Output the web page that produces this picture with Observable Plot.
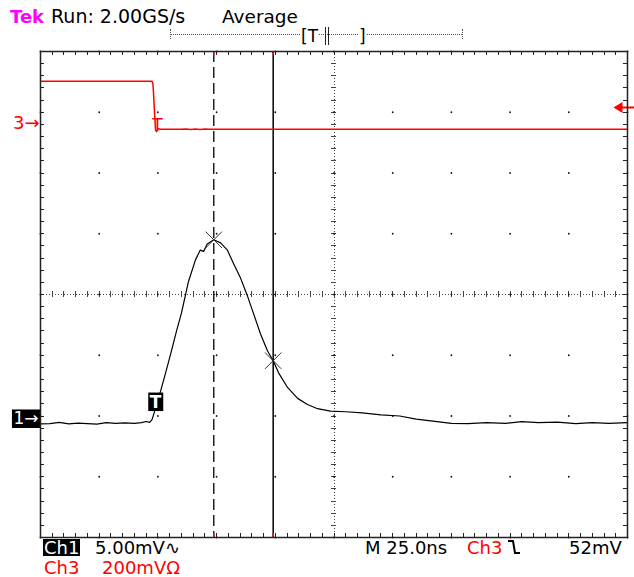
<!DOCTYPE html>
<html><head><meta charset="utf-8">
<script src="https://cdn.jsdelivr.net/npm/d3@7"></script>
<script src="https://cdn.jsdelivr.net/npm/@observablehq/plot@0.6"></script>
<style>
body{margin:0;background:#fff;}
#wrap{position:relative;width:634px;height:577px;overflow:hidden;font-family:"DejaVu Sans",sans-serif;font-size:18px;color:#000;}
#wrap svg.plot{position:absolute;left:0;top:0;}
.lbl{position:absolute;white-space:nowrap;line-height:17px;}
.red{color:#ff0000;}
.box{display:inline-block;background:#000;color:#fff;padding:0 1px;height:17px;line-height:17px;}
</style></head><body><div id="wrap"></div>
<script>
// ---- settings ----
const timeDomain = [-50, 200];      // ns (25 ns/div, 10 divisions)
const divDomain = [-4, 4];          // vertical divisions
const ch1Scale = 5;                 // mV/div
const ch3Scale = 200;               // mV/div
const ch1Pos = -2.05;               // ground marker position (div)
const ch3Pos = 2.82;
const triggerLevel = 52;            // mV on Ch3
const triggerTime = -1;             // ns
const cursorTimes = [23.8, 49.1];   // ns

// ---- Ch1 trace ----
const ch1Time = [-50,-46,-42,-38,-34,-30,-26,-22,-18,-14,-10,-7,-5,-3.5,-2.5,-1,1,3,5.5,8,10,13,16,18,19.5,21,23.8,26.7,29.6,32.2,35.2,38.2,40.7,43.7,46.7,49.1,51.4,55.2,59.5,63.7,68,73.5,80,87,95,103,110,118,125,132,140,148,155,162,170,178,185,192,200];
const ch1mV   = [-0.40,-0.38,-0.28,-0.40,-0.34,-0.38,-0.42,-0.30,-0.36,-0.32,-0.35,-0.30,-0.20,-0.28,-0.05,0.9,2.2,3.6,5.4,7.3,8.7,11.3,13.1,13.9,13.8,14.4,14.75,14.5,13.9,12.8,11.6,10.1,8.7,7.0,5.6,4.8,3.8,2.6,1.7,1.2,0.85,0.65,0.6,0.5,0.35,0.25,0.0,-0.2,-0.35,-0.38,-0.3,-0.35,-0.22,-0.3,-0.25,-0.38,-0.3,-0.36,-0.3];

// ---- Ch3 trace ----
const ch3Time = [-50,-2.5,-2.1,-1.8,-1.4,-1.0,-0.6,0.2,1.0,10,12,14,16,18,20,22,200];
const ch3mV   = [138,138,128,90,30,-22,-28,-18,-20,-20,-19,-21,-19,-21,-19,-20,-20];

// ---- derived tables ----
const ch1 = ch1Time.map((t,i)=>({t, y: ch1Pos + ch1mV[i]/ch1Scale}));
const ch3 = ch3Time.map((t,i)=>({t, y: ch3Pos + ch3mV[i]/ch3Scale}));
function interp(ts, vs, t){const i=Math.max(1,d3.bisectLeft(ts,t));const t0=ts[i-1],t1=ts[i];const a=(t-t0)/(t1-t0);return vs[i-1]+(vs[i]-vs[i-1])*a;}
const cursorPts = cursorTimes.map(t=>({t, y: ch1Pos + interp(ch1Time,ch1mV,t)/ch1Scale}));
const trigCh1 = [{t: triggerTime, y: ch1Pos + interp(ch1Time,ch1mV,triggerTime)/ch1Scale, label:"T"}];
const trigCh3 = [{t: triggerTime+0.8, y: ch3Pos + interp(ch3Time,ch3mV,triggerTime+0.8)/ch3Scale, label:"T"}];

// graticule positions
const step = (timeDomain[1]-timeDomain[0])/10;
const xMajor = d3.range(0,11).map(i=>timeDomain[0]+i*step);
const yMajor = d3.range(0,9).map(i=>divDomain[0]+i);
const xMinor = d3.range(0,51).map(i=>timeDomain[0]+i*step/5);
const yMinor = d3.range(0,41).map(i=>divDomain[0]+i*0.2);
const xMid = (timeDomain[0]+timeDomain[1])/2;
const gridDots = xMajor.flatMap(x=>yMajor.map(y=>({x,y})));
const tx = step*0.065, ty = 0.065;

const arrowLeft = {draw(ctx){ctx.moveTo(-9,0);ctx.lineTo(0,-5.5);ctx.lineTo(0,5.5);ctx.closePath();ctx.rect(0,-1,12,2);}};
const crisp = {shapeRendering:"crispEdges"};

const plot = Plot.plot({
  width:634, height:577,
  marginLeft:40, marginRight:7, marginTop:51, marginBottom:40,
  x:{domain:timeDomain, axis:null},
  y:{domain:divDomain, axis:null},
  style:{background:"transparent", overflow:"visible", fontFamily:"DejaVu Sans, sans-serif"},
  marks:[
    // center cross
    Plot.ruleY([0],{stroke:"#444", strokeDasharray:"1,2", strokeWidth:1, ...crisp}),
    Plot.ruleX([xMid],{stroke:"#444", strokeDasharray:"1,2", strokeWidth:1, ...crisp}),
    Plot.ruleX(xMinor,{x:d=>d, y1:-0.05, y2:0.05, stroke:"#444", strokeWidth:1, ...crisp}),
    Plot.ruleY(yMinor,{y:d=>d, x1:xMid-step*0.05, x2:xMid+step*0.05, stroke:"#444", strokeWidth:1, ...crisp}),
    // edge ticks
    Plot.ruleX(xMinor,{x:d=>d, y1:divDomain[1], y2:divDomain[1]-ty, stroke:"#222", ...crisp}),
    Plot.ruleX(xMinor,{x:d=>d, y1:divDomain[0], y2:divDomain[0]+ty, stroke:"#222", ...crisp}),
    Plot.ruleY(yMinor,{y:d=>d, x1:timeDomain[0], x2:timeDomain[0]+tx, stroke:"#222", ...crisp}),
    Plot.ruleY(yMinor,{y:d=>d, x1:timeDomain[1], x2:timeDomain[1]-tx, stroke:"#222", ...crisp}),
    // grid dots
    Plot.dot(gridDots,{x:"x", y:"y", r:0.9, fill:"#111", stroke:null}),
    // cursors
    Plot.ruleX([cursorTimes[0]],{stroke:"#000", strokeWidth:1.3, strokeDasharray:"11,5"}),
    Plot.ruleX([cursorTimes[1]],{stroke:"#000", strokeWidth:1.5}),
    Plot.ruleX(cursorTimes,{x:d=>d, y1:divDomain[1], y2:divDomain[1]-ty, stroke:"red", strokeWidth:1.5}),
    Plot.ruleX(cursorTimes,{x:d=>d, y1:divDomain[0], y2:divDomain[0]+ty, stroke:"red", strokeWidth:1.5}),
    // traces
    Plot.line(ch3,{x:"t", y:"y", stroke:"#ff0000", strokeWidth:1.5}),
    Plot.line(ch1,{x:"t", y:"y", stroke:"#000", strokeWidth:1.2, curve:"linear"}),
    // cursor markers
    Plot.dot(cursorPts,{x:"t", y:"y", symbol:"times", r:7.5, stroke:"#333", strokeWidth:1}),
    // trigger markers
    Plot.text(trigCh1,{x:"t", y:"y", text:"label", fill:"white", fontSize:17, fontWeight:"bold", dy:-6, className:"boxed"}),
    Plot.text(trigCh3,{x:"t", y:"y", text:"label", fill:"#ff0000", fontSize:17, lineAnchor:"bottom", dy:1}),
    // trigger level arrow
    Plot.dot([{t:timeDomain[1], y:ch3Pos+triggerLevel/ch3Scale}],{x:"t", y:"y", symbol:arrowLeft, fill:"#ff0000", stroke:null, dx:-5}),
    // ground markers
    Plot.text([{t:timeDomain[0], y:ch3Pos, label:"3→"}],{x:"t", y:"y", text:"label", fill:"#ff0000", fontSize:18, textAnchor:"end", dx:-1}),
    Plot.text([{t:timeDomain[0], y:ch1Pos, label:"1→"}],{x:"t", y:"y", text:"label", fill:"white", fontSize:17, textAnchor:"end", dx:-2, className:"boxed"}),
    Plot.frame({stroke:"#222", strokeWidth:1.5})
  ]
});
plot.classList.add("plot");
const wrap = document.getElementById("wrap");
wrap.appendChild(plot);
// black boxes behind boxed labels
plot.querySelectorAll("g.boxed text").forEach(t=>{
  const b=t.getBBox();
  const r=document.createElementNS("http://www.w3.org/2000/svg","rect");
  r.setAttribute("x",b.x-1.5);r.setAttribute("y",b.y+1);r.setAttribute("width",b.width+3);r.setAttribute("height",b.height-1.5);
  r.setAttribute("fill","#000");
  if(t.getAttribute("transform")) r.setAttribute("transform",t.getAttribute("transform"));
  t.parentNode.insertBefore(r,t);
});

// ---- header and footer texts ----
function lbl(html,left,top,cls,extra){const d=document.createElement("div");d.className="lbl "+(cls||"");d.innerHTML=html;d.style.left=left+"px";d.style.top=top+"px";if(extra)Object.assign(d.style,extra);wrap.appendChild(d);return d;}
lbl('<span style="color:#ff00ff;font-weight:bold">Tek</span>',10,8);
lbl('Run: 2.00GS/s',51,8,'',{fontSize:'19px'});
lbl('Average',222,8,'',{fontSize:'18.5px'});
// record bar
lbl('',170,34,'',{width:'292px',height:'0',borderTop:'1px dotted #555'});
lbl('',170,29,'',{width:'0',height:'10px',borderLeft:'1px dotted #555'});
lbl('',462,29,'',{width:'0',height:'10px',borderLeft:'1px dotted #555'});
lbl('',325,27,'',{width:'0',height:'18px',borderLeft:'1px solid #222'});
lbl('',328,27,'',{width:'0',height:'18px',borderLeft:'1px solid #222'});
lbl('[T',301,28,'',{fontSize:'17px',background:'#fff'});
lbl(']',359,28,'',{fontSize:'17px',background:'#fff'});
// footer
lbl('<span class="box">Ch1</span>',43,539);
lbl('5.00mV∿',95,539);
lbl('M 25.0ns',365,539);
lbl('Ch3',467,539,'red');
lbl('<svg width="14" height="16"><polyline points="1,2 6,2 8,14 13,14" fill="none" stroke="#000" stroke-width="2"/></svg>',507,539);
lbl('52mV',569,539);
lbl('Ch3',44,559,'red');
lbl('200mVΩ',102,559,'red');
</script></body></html>
